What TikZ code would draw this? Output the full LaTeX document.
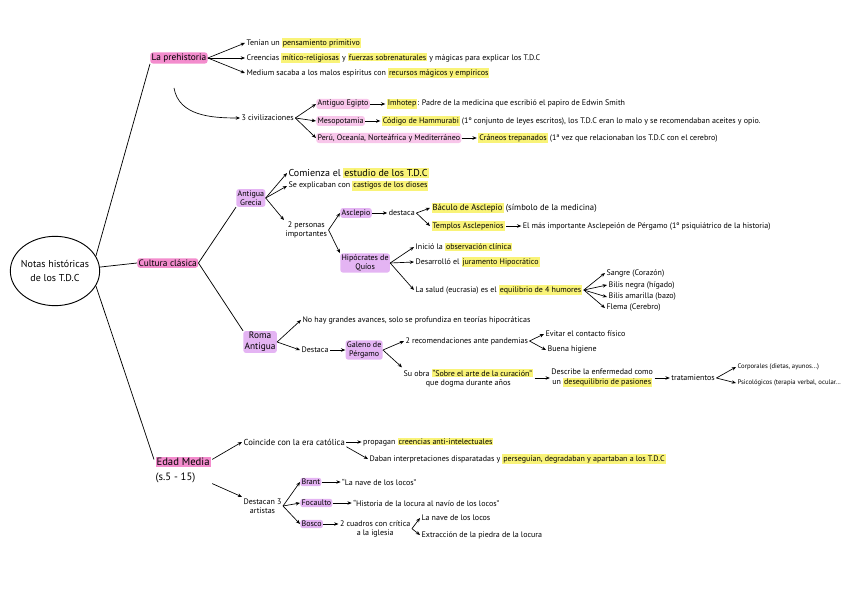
\documentclass[tikz,border=0pt]{standalone}
\usepackage{fontspec}
\setmainfont{PT Sans}
\usepackage{xcolor}
\usepackage{tikz}
\usetikzlibrary{arrows.meta,positioning,shapes.geometric}
\definecolor{hlpink}{RGB}{243,140,205}
\definecolor{hlrose}{RGB}{248,198,234}
\definecolor{hllila}{RGB}{228,180,243}
\definecolor{hlyellow}{RGB}{249,243,120}
\newcommand{\hly}[1]{{\setlength{\fboxsep}{0.7pt}\colorbox{hlyellow}{#1}}}
\newcommand{\hlp}[1]{{\setlength{\fboxsep}{0.7pt}\colorbox{hlpink}{#1}}}

\begin{document}
\begin{tikzpicture}[
  x=0.75pt, y=-0.75pt,
  txt/.style={anchor=west, inner sep=1pt, align=left, font=\fontsize{6}{7}\selectfont},
  bigtxt/.style={txt, font=\fontsize{7.5}{9}\selectfont},
  pinkbox/.style={txt, fill=hlpink, rounded corners=2pt, font=\fontsize{7}{8}\selectfont},
  rosebox/.style={txt, fill=hlrose, rounded corners=2pt},
  lilabox/.style={txt, fill=hllila, rounded corners=2pt, align=center},
  arrow/.style={-{Stealth[length=3.2pt, width=2.6pt]}, line width=0.5pt},
  link/.style={line width=0.55pt}
]
\useasboundingbox (0,0) rectangle (848,599);
\node[draw, ellipse, line width=0.7pt, inner sep=-2pt, minimum width=67pt, minimum height=52pt, align=center, font=\fontsize{7.5}{10}\selectfont] (notas) at (55,271) {Notas históricas\\de los T.D.C};

\node[pinkbox] (prehist) at (150,58) {La prehistoria};
\node[txt] (tenian) at (245,43) {Tenían un \hly{pensamiento primitivo}};
\node[txt] (creencias) at (245,58) {Creencias \hly{mítico-religiosas} y \hly{fuerzas sobrenaturales} y mágicas para explicar los T.D.C};
\node[txt] (medium) at (245,73) {Medium sacaba a los malos espíritus con \hly{recursos mágicos y empíricos}};
\draw[link] (notas.20) -- (prehist.south west);
\draw[arrow] (prehist.east) -- (tenian.west);
\draw[arrow] (prehist.east) -- (creencias.west);
\draw[arrow] (prehist.east) -- (medium.west);

\coordinate (curva) at (174,88);
\node[txt] (civ) at (240,118) {3 civilizaciones};
\draw[arrow] (curva) to[out=-80, in=180] (civ.west);
\node[rosebox] (egipto) at (316,104) {Antiguo Egipto};
\node[txt, right=4mm of egipto] (imhotep) {\hly{Imhotep}: Padre de la medicina que escribió el papiro de Edwin Smith};
\node[rosebox] (meso) at (316,121) {Mesopotamia};
\node[txt, right=4mm of meso] (hammurabi) {\hly{Código de Hammurabi} (1º conjunto de leyes escritos), los T.D.C eran lo malo y se recomendaban aceites y opio.};
\node[rosebox] (peru) at (316,138) {Perú, Oceanía, Norteáfrica y Mediterráneo};
\node[txt, right=4mm of peru] (craneos) {\hly{Cráneos trepanados} (1ª vez que relacionaban los T.D.C con el cerebro)};
\draw[arrow] (civ.east) -- (egipto.west);
\draw[arrow] (civ.east) -- (meso.west);
\draw[arrow] (civ.east) -- (peru.west);
\draw[arrow] (egipto) -- (imhotep);
\draw[arrow] (meso) -- (hammurabi);
\draw[arrow] (peru) -- (craneos);

\node[pinkbox] (cultura) at (137,263) {Cultura clásica};
\draw[link] (notas.5) -- (cultura.west);

\node[lilabox] (grecia) at (236,198) {Antigua\\Grecia};
\node[bigtxt] (comienza) at (287,173) {Comienza el \hly{estudio de los T.D.C}};
\node[txt] (castigos) at (287,186) {Se explicaban con \hly{castigos de los dioses}};
\node[txt, align=center] (personas) at (284,230) {2 personas\\importantes};
\draw[link] (cultura.east) -- (grecia.south west);
\draw[arrow] (grecia.east) -- (comienza.west);
\draw[arrow] (grecia.east) -- (castigos.west);
\draw[arrow] (grecia.east) -- (personas.north west);

\node[lilabox] (asclepio) at (340,213) {Asclepio};
\node[txt, right=4mm of asclepio] (destaca) {destaca};
\node[txt, font=\fontsize{6.5}{8}\selectfont] (baculo) at (430,208) {\hly{Báculo de Asclepio} (símbolo de la medicina)};
\node[txt] (templos) at (430,226) {\hly{Templos Asclepenios}};
\node[txt, right=4mm of templos] (pergamo) {El más importante Asclepeión de Pérgamo (1º psiquiátrico de la historia)};
\draw[arrow] (personas.east) -- (asclepio.west);
\draw[arrow] (asclepio) -- (destaca);
\draw[arrow] (destaca.east) -- (baculo.west);
\draw[arrow] (destaca.east) -- (templos.west);
\draw[arrow] (templos) -- (pergamo);

\node[lilabox] (hipocrates) at (340,263) {Hipócrates de\\Quíos};
\node[txt] (inicio) at (414,247) {Inició la \hly{observación clínica}};
\node[txt] (juramento) at (414,262) {Desarrolló el \hly{juramento Hipocrático}};
\node[txt] (salud) at (414,290) {La salud (eucrasia) es el \hly{equilibrio de 4 humores}};
\draw[arrow] (personas.east) -- (hipocrates.north west);
\draw[arrow] (hipocrates.east) -- (inicio.west);
\draw[arrow] (hipocrates.east) -- (juramento.west);
\draw[arrow] (hipocrates.east) -- (salud.west);

\node[txt] (sangre) at (605,273) {Sangre (Corazón)};
\node[txt] (negra) at (607,285) {Bilis negra (hígado)};
\node[txt] (amarilla) at (607,297) {Bilis amarilla (bazo)};
\node[txt] (flema) at (605,308) {Flema (Cerebro)};
\draw[arrow] (salud.east) -- (sangre.west);
\draw[arrow] (salud.east) -- (negra.west);
\draw[arrow] (salud.east) -- (amarilla.west);
\draw[arrow] (salud.east) -- (flema.west);

\node[lilabox, font=\fontsize{7}{8}\selectfont] (roma) at (243,342) {Roma\\Antigua};
\node[txt] (avances) at (301,320) {No hay grandes avances, solo se profundiza en teorías hipocráticas};
\node[txt] (destacar) at (300,350) {Destaca};
\node[lilabox, right=4mm of destacar] (galeno) {Galeno de\\Pérgamo};
\draw[link] (cultura.east) -- (roma.north west);
\draw[arrow] (roma.east) -- (avances.west);
\draw[arrow] (roma.east) -- (destacar.west);
\draw[arrow] (destacar) -- (galeno);

\node[txt] (recomienda) at (404,341) {2 recomendaciones ante pandemias};
\node[txt] (contacto) at (544,334) {Evitar el contacto físico};
\node[txt] (higiene) at (546,350) {Buena higiene};
\node[txt, align=center] (obra) at (402,378) {Su obra \hly{“Sobre el arte de la curación”}\\que dogma durante años};
\node[txt, align=center, right=4mm of obra] (describe) {Describe la enfermedad como\\un \hly{desequilibrio de pasiones}};
\node[txt, right=4mm of describe] (tratam) {tratamientos};
\node[txt, font=\fontsize{5}{6}\selectfont] (corporales) at (736,367) {Corporales (dietas, ayunos...)};
\node[txt, font=\fontsize{5}{6}\selectfont] (psico) at (736,383) {Psicológicos (terapia verbal, ocular...};
\draw[arrow] (galeno.east) -- (recomienda.west);
\draw[arrow] (galeno.east) -- (obra.north west);
\draw[arrow] (recomienda.east) -- (contacto.west);
\draw[arrow] (recomienda.east) -- (higiene.west);
\draw[arrow] (obra) -- (describe);
\draw[arrow] (describe) -- (tratam);
\draw[arrow] (tratam.east) -- (corporales.west);
\draw[arrow] (tratam.east) -- (psico.west);

\node[txt, font=\fontsize{8}{11}\selectfont] (edad) at (154,470) {\hlp{Edad Media}\\(s.5 - 15)};
\draw[link] (notas.-20) -- (edad.160);

\node[txt, font=\fontsize{6.5}{8}\selectfont] (coincide) at (242,442) {Coincide con la era católica};
\node[txt, right=4mm of coincide] (propagan) {propagan \hly{creencias anti-intelectuales}};
\node[txt] (daban) at (368,459) {Daban interpretaciones disparatadas y \hly{perseguían, degradaban y apartaban a los T.D.C}};
\draw[arrow] (edad.20) -- (coincide.west);
\draw[arrow] (coincide) -- (propagan);
\draw[arrow] (coincide.south east) -- (daban.west);

\node[txt, align=center] (artistas) at (242,506) {Destacan 3\\artistas};
\node[lilabox] (brant) at (300,482) {Brant};
\node[lilabox] (focaulto) at (300,503) {Focaulto};
\node[lilabox] (bosco) at (300,524) {Bosco};
\node[txt, right=5mm of brant] (nave) {“La nave de los locos”};
\node[txt, right=5mm of focaulto] (historia) {“Historia de la locura al navío de los locos”};
\node[txt, align=center, right=4mm of bosco.east, anchor=north west, yshift=4pt] (cuadros) {2 cuadros con crítica\\a la iglesia};
\node[txt] (nave2) at (420,518) {La nave de los locos};
\node[txt] (piedra) at (420,535) {Extracción de la piedra de la locura};
\draw[arrow] (edad.-25) -- (artistas.north west);
\draw[arrow] (artistas.east) -- (brant.west);
\draw[arrow] (artistas.east) -- (focaulto.west);
\draw[arrow] (artistas.east) -- (bosco.west);
\draw[arrow] (brant) -- (nave);
\draw[arrow] (focaulto) -- (historia);
\draw[arrow] (bosco) -- (cuadros.west |- bosco);
\draw[arrow] (cuadros.east) -- (nave2.west);
\draw[arrow] (cuadros.east) -- (piedra.west);
\end{tikzpicture}
\end{document}
